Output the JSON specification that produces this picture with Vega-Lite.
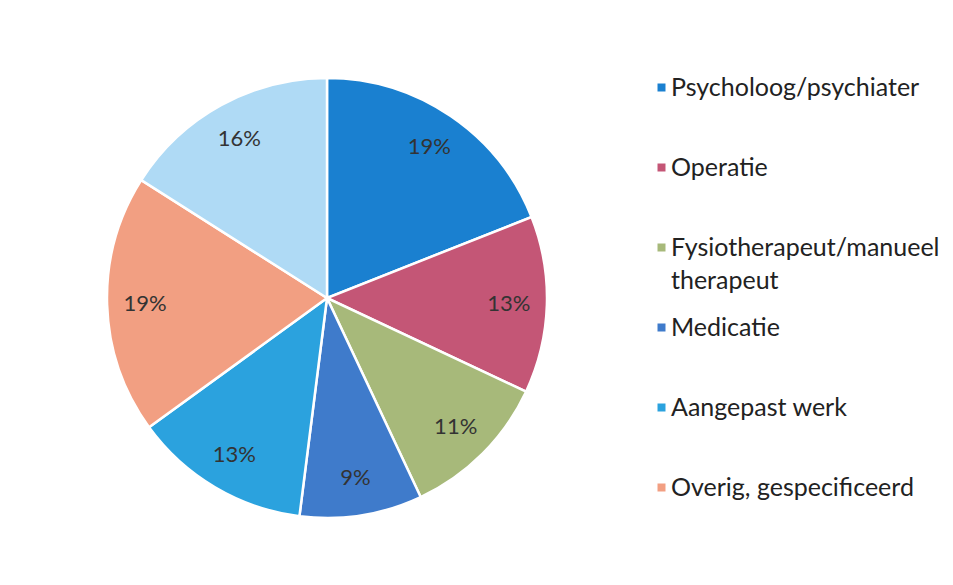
{
  "$schema": "https://vega.github.io/schema/vega-lite/v6.json",
  "width": 654,
  "height": 570,
  "padding": {"left": 0, "top": 13, "right": 0, "bottom": 0},
  "background": "white",
  "config": {
    "view": {"stroke": null},
    "style": {"guide-label": {"lineHeight": 33}}
  },
  "data": {
    "values": [
      {"category": "Psycholoog/psychiater", "value": 19, "order": 1, "label": "19%"},
      {"category": "Operatie", "value": 13, "order": 2, "label": "13%"},
      {"category": "Fysiotherapeut/manueel therapeut", "value": 11, "order": 3, "label": "11%"},
      {"category": "Medicatie", "value": 9, "order": 4, "label": "9%"},
      {"category": "Aangepast werk", "value": 13, "order": 5, "label": "13%"},
      {"category": "Overig, gespecificeerd", "value": 19, "order": 6, "label": "19%"},
      {"category": "Overig, ongespecificeerd", "value": 16, "order": 7, "label": "16%"}
    ]
  },
  "encoding": {
    "theta": {"field": "value", "type": "quantitative", "stack": true},
    "order": {"field": "order", "type": "quantitative"}
  },
  "layer": [
    {
      "mark": {"type": "arc", "outerRadius": 220, "stroke": "white", "strokeWidth": 2.5},
      "encoding": {
        "color": {
          "field": "category",
          "type": "nominal",
          "scale": {
            "domain": ["Psycholoog/psychiater", "Operatie", "Fysiotherapeut/manueel therapeut", "Medicatie", "Aangepast werk", "Overig, gespecificeerd", "Overig, ongespecificeerd"],
            "range": ["#1a80d0", "#c45676", "#a7b97a", "#3f7bcb", "#2ba2de", "#f29f82", "#afdaf5"]
          },
          "legend": {
            "values": ["Psycholoog/psychiater", "Operatie", "Fysiotherapeut/manueel therapeut", "Medicatie", "Aangepast werk", "Overig, gespecificeerd"],
            "orient": "none",
            "legendX": 649,
            "legendY": 62,
            "title": null,
            "symbolType": "square",
            "symbolSize": 64,
            "symbolStrokeWidth": 0,
            "labelFont": "Lato",
            "labelFontSize": 25,
            "labelColor": "#222222",
            "labelLimit": 400,
            "labelOffset": -3,
            "labelBaseline": "middle",
            "rowPadding": 21,
            "labelExpr": "datum.label == 'Fysiotherapeut/manueel therapeut' ? ['Fysiotherapeut/manueel', 'therapeut'] : [datum.label, '']"
          }
        }
      }
    },
    {
      "mark": {"type": "text", "radius": 182, "fontSize": 22, "font": "Lato", "fill": "#333333"},
      "encoding": {
        "text": {"field": "label", "type": "nominal"},
        "detail": {"field": "category", "type": "nominal"}
      }
    }
  ]
}
